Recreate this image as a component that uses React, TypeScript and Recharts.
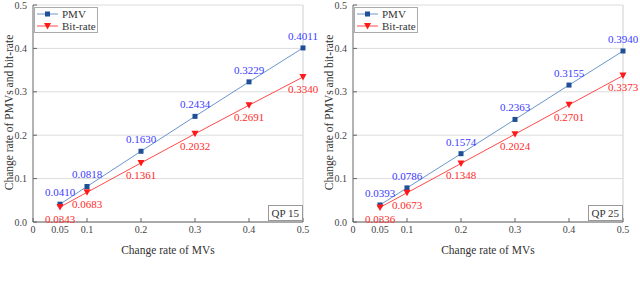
import React from 'react';
import { LineChart, Line, XAxis, YAxis, CartesianGrid, ReferenceLine, LabelList, Label } from 'recharts';

const mvRates = [0.05, 0.1, 0.2, 0.3, 0.4, 0.5];
const pmvQP15 = [0.041, 0.0818, 0.163, 0.2434, 0.3229, 0.4011];
const bitQP15 = [0.0343, 0.0683, 0.1361, 0.2032, 0.2691, 0.334];
const pmvQP25 = [0.0393, 0.0786, 0.1574, 0.2363, 0.3155, 0.394];
const bitQP25 = [0.0336, 0.0673, 0.1348, 0.2024, 0.2701, 0.3373];
const xTicks = [0, 0.05, 0.1, 0.2, 0.3, 0.4, 0.5];
const yTicks = [0, 0.1, 0.2, 0.3, 0.4, 0.5];
const panelTitles = ['QP 15', 'QP 25'];
const seriesNames = ['PMV', 'Bit-rate'];
const xTitle = 'Change rate of MVs';
const yTitle = 'Change rate of PMVs and bit-rate';

const PMV_LINE = '#6a96cc';
const PMV_MARK = '#1f4f96';
const PMV_TEXT = '#3b3bff';
const BIT_LINE = '#ff4a4a';
const BIT_MARK = '#ff1a1a';
const BIT_TEXT = '#ff2a2a';
const FONT = '"Liberation Serif", "Times New Roman", serif';

const SquareDot = (p: any) => {
  if (p.cx == null || p.cy == null) return <g key={p.index} />;
  return <rect key={p.index} x={p.cx - 2.5} y={p.cy - 2.5} width={5} height={5} fill={PMV_MARK} />;
};
const TriDot = (p: any) => {
  if (p.cx == null || p.cy == null) return <g key={p.index} />;
  const { cx, cy } = p;
  return (
    <polygon
      key={p.index}
      points={`${cx - 3.5},${cy - 3} ${cx + 3.5},${cy - 3} ${cx},${cy + 3.5}`}
      fill={BIT_MARK}
    />
  );
};

const YTitle = (props: any) => {
  const vb = props.viewBox || {};
  const cx = (vb.x || 0) + 9;
  const cy = (vb.y || 0) + (vb.height || 0) / 2 - 1;
  return (
    <text
      x={cx}
      y={cy}
      transform={`rotate(-90 ${cx} ${cy})`}
      textAnchor="middle"
      dominantBaseline="central"
      fill="#333"
      fontSize={11.5}
      fontFamily={FONT}
    >
      {yTitle}
    </text>
  );
};

const LegendBox = () => (
  <div
    style={{
      position: 'absolute',
      left: 34,
      top: 7,
      width: 62,
      border: '1px solid #aaa',
      background: '#fff',
      fontSize: 11,
      lineHeight: '12px',
      padding: '0',
      color: '#333',
      whiteSpace: 'nowrap',
      overflow: 'hidden',
    }}
  >
    <div style={{ display: 'flex', alignItems: 'center', height: 12 }}>
      <svg width={24} height={10} style={{ marginLeft: 1, flex: 'none' }}>
        <line x1={1} y1={5} x2={22} y2={5} stroke={PMV_LINE} strokeWidth={1} />
        <rect x={9} y={2.5} width={5} height={5} fill={PMV_MARK} />
      </svg>
      <span style={{ marginLeft: 2 }}>{seriesNames[0]}</span>
    </div>
    <div style={{ display: 'flex', alignItems: 'center', height: 12 }}>
      <svg width={24} height={10} style={{ marginLeft: 1, flex: 'none' }}>
        <line x1={1} y1={5} x2={22} y2={5} stroke={BIT_LINE} strokeWidth={1} />
        <polygon points="8,2 15,2 11.5,8.5" fill={BIT_MARK} />
      </svg>
      <span style={{ marginLeft: 2 }}>{seriesNames[1]}</span>
    </div>
  </div>
);

const Panel = ({ pmv, bit, title }: { pmv: number[]; bit: number[]; title: string }) => {
  const data = mvRates.map((x, i) => ({ x, pmv: pmv[i], bit: bit[i] }));
  return (
    <div style={{ position: 'relative', width: 320, height: 288 }}>
      <LineChart width={320} height={288} data={data} margin={{ top: 5, right: 17, bottom: 34, left: 0 }}>
        <CartesianGrid vertical={false} stroke="#dcdcdc" />
        <ReferenceLine x={0.5} stroke="#cfcfcf" />
        <XAxis
          dataKey="x"
          type="number"
          domain={[0, 0.5]}
          ticks={xTicks}
          interval={0}
          tickFormatter={(v: number) => String(v)}
          tick={{ fill: '#444', fontSize: 10 }}
          tickSize={-4}
          tickMargin={8}
          stroke="#666"
          height={32}
        >
          <Label value={xTitle} position="insideBottom" offset={0} fill="#333" fontSize={11.5} />
        </XAxis>
        <YAxis
          type="number"
          domain={[0, 0.5]}
          ticks={yTicks}
          interval={0}
          tickFormatter={(v: number) => v.toFixed(1)}
          tick={{ fill: '#444', fontSize: 10 }}
          tickSize={-4}
          tickMargin={10}
          stroke="#666"
          width={33}
        >
          <Label content={<YTitle />} />
        </YAxis>
        <Line
          dataKey="pmv"
          stroke={PMV_LINE}
          strokeWidth={1}
          dot={SquareDot}
          activeDot={false}
          isAnimationActive={false}
        >
          <LabelList
            dataKey="pmv"
            position="top"
            offset={8}
            formatter={(v: any) => Number(v).toFixed(4)}
            fill={PMV_TEXT}
            fontSize={11}
          />
        </Line>
        <Line
          dataKey="bit"
          stroke={BIT_LINE}
          strokeWidth={1}
          dot={TriDot}
          activeDot={false}
          isAnimationActive={false}
        >
          <LabelList
            dataKey="bit"
            position="bottom"
            offset={8}
            formatter={(v: any) => Number(v).toFixed(4)}
            fill={BIT_TEXT}
            fontSize={11}
          />
        </Line>
      </LineChart>
      <LegendBox />
      <div
        style={{
          position: 'absolute',
          right: 17,
          bottom: 67,
          border: '1px solid #999',
          background: '#fff',
          fontSize: 11,
          lineHeight: '14px',
          padding: '0 3px',
          color: '#333',
        }}
      >
        {title}
      </div>
    </div>
  );
};

export default function App() {
  return (
    <div
      style={{
        position: 'fixed',
        left: 0,
        top: 0,
        width: 640,
        height: 288,
        display: 'flex',
        background: '#fff',
        fontFamily: FONT,
      }}
    >
      <Panel pmv={pmvQP15} bit={bitQP15} title={panelTitles[0]} />
      <Panel pmv={pmvQP25} bit={bitQP25} title={panelTitles[1]} />
    </div>
  );
}
